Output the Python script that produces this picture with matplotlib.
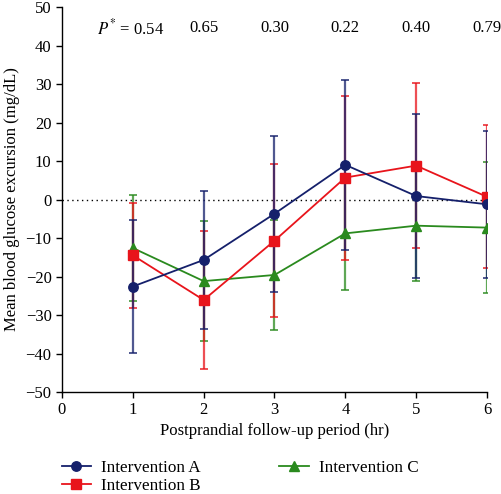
import matplotlib
matplotlib.use("Agg")
import matplotlib.pyplot as plt
import numpy as np

plt.rcParams['font.family'] = ['Liberation Serif', 'DejaVu Serif']
plt.rcParams['mathtext.fontset'] = 'stix'

hours = [1, 2, 3, 4, 5, 6]
series_names = ["Intervention A", "Intervention B", "Intervention C"]
mean_a = [-22.6, -15.7, -3.7, 9.0, 0.9, -1.25]
sd_a = [17.3, 18.0, 20.3, 22.0, 21.2, 19.1]
mean_b = [-14.5, -26.1, -10.7, 5.7, 8.8, 0.7]
sd_b = [13.7, 17.8, 19.9, 21.3, 21.5, 18.6]
mean_c = [-12.6, -21.2, -19.6, -8.8, -6.8, -7.3]
sd_c = [13.8, 15.6, 14.2, 14.8, 14.4, 17.0]
p_values = ["0.54", "0.65", "0.30", "0.22", "0.40", "0.79"]

colors = {"A": "#15206b", "B": "#e8141b", "C": "#2a8a1e"}

fig = plt.figure(figsize=(5.01, 4.94), dpi=100)
ax = fig.add_axes([62/501, 1-392/494, (487-62)/501, (392-7)/494])

ax.plot([0, 6], [0, 0], linestyle=(0, (1, 2.5)), color='black', lw=1.0, zorder=1)

specs = [
    ("C", mean_c, sd_c, '^', series_names[2], 3),
    ("B", mean_b, sd_b, 's', series_names[1], 4),
    ("A", mean_a, sd_a, 'o', series_names[0], 5),
]
handles = {}
for key, m, s, mk, name, z in specs:
    c = colors[key]
    ax.errorbar(hours, m, yerr=s, fmt='none', ecolor=c, elinewidth=1.6,
                capsize=3.2, capthick=1.4, alpha=0.75, zorder=z)
    ln, = ax.plot(hours, m, color=c, marker=mk, markersize=6.8, lw=1.3,
                  label=name, zorder=z + 3)
    handles[name] = ln

ax.set_xlim(0, 6)
ax.set_ylim(-50, 50)
ax.set_xticks(range(0, 7))
ax.set_yticks(range(-50, 51, 10))
for sp in ['top', 'right']:
    ax.spines[sp].set_visible(False)
ax.spines['left'].set_linewidth(1.0)
ax.spines['bottom'].set_linewidth(1.0)
ax.tick_params(direction='out', length=4, width=1.0, labelsize=12)
ax.set_xlabel("Postprandial follow-up period (hr)", fontsize=12, labelpad=3)
ax.set_ylabel("Mean blood glucose excursion (mg/dL)", fontsize=12, labelpad=4)

ax.text(0.5, 44.5, r"$P^{*}$ = " + p_values[0], ha='left', va='center', fontsize=12)
for h, p in zip(hours[1:], p_values[1:]):
    ax.text(h, 44.5, p, ha='center', va='center', fontsize=12)

leg = fig.legend([handles[n] for n in series_names], series_names, ncol=2,
                 loc='upper left', bbox_to_anchor=(50/501, 1-448/494),
                 frameon=False, fontsize=12.3, handlelength=1.7,
                 columnspacing=4.6, labelspacing=0.1, handletextpad=0.6,
                 borderpad=0.2)

fig.savefig("out.png", dpi=100)
